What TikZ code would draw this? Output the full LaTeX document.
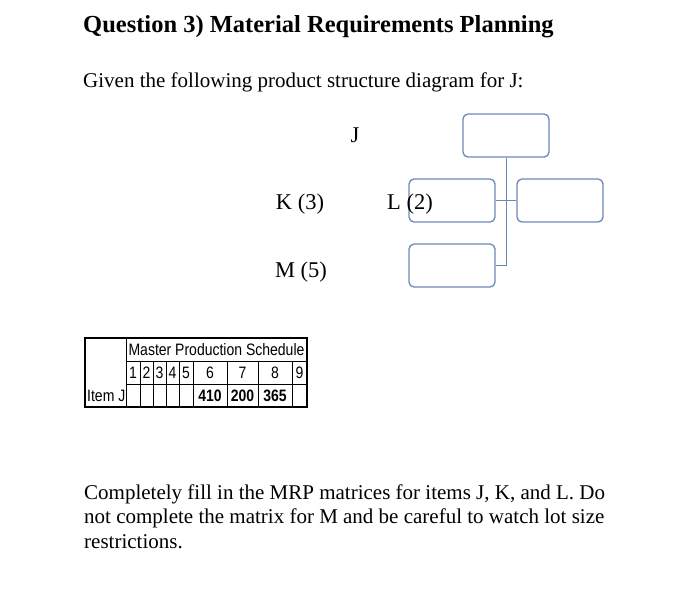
\documentclass[tikz,border=0pt]{standalone}
\usepackage{fontspec}
\usepackage{graphicx}
\setmainfont{Liberation Serif}
\setsansfont{Liberation Sans}
\usetikzlibrary{positioning}
\definecolor{boxblue}{RGB}{108,136,182}
\newcommand{\tallcell}[1]{\scalebox{1}[1.18]{#1}}

\begin{document}
\begin{tikzpicture}[x=1pt, y=-1pt, partbox/.style={draw=boxblue, line width=1.3pt, rounded corners=5pt, minimum width=86pt, minimum height=43pt, inner sep=0pt}, link/.style={draw=boxblue, line width=1pt}, lbl/.style={anchor=base, inner sep=0pt, font=\fontsize{22.5}{27}\selectfont}, cell/.style={inner sep=0pt, font=\sffamily\fontsize{14}{16}\selectfont}, grid/.style={line width=0.7pt}]
\useasboundingbox (0,0) rectangle (700,606);
\node[anchor=base west, inner sep=0pt, font=\fontsize{24.5}{29}\selectfont\bfseries] (title) at (83,32) {Question 3) Material Requirements Planning};
\node[anchor=base west, inner sep=0pt, font=\fontsize{21}{25}\selectfont] (given) at (83,87) {Given the following product structure diagram for J:};
% product structure for J
\node[partbox] (jbox) at (506,135.5) {};
\node[partbox] (kbox) at (452,200.5) {};
\node[partbox] (lbox) at (560,200.5) {};
\node[partbox] (mbox) at (452,265.5) {};
\draw[link] (jbox.south) |- (mbox.east); \draw[link] (kbox.east) -- (lbox.west);
\node[lbl] (jlbl) at (355,142) {J};
\node[lbl] (klbl) at (300,209) {K (3)};
\node[lbl] (llbl) at (410,209) {L (2)};
\node[lbl] (mlbl) at (301,277) {M (5)};
% master production schedule
\draw[line width=1.1pt] (85,338) rectangle (307,407);
\draw[grid] (126,338) -- (126,407); \draw[grid] (126,361) -- (307,361); \draw[grid] (126,384) -- (307,384);
\node[cell] (mps) at (216.5,350) {\tallcell{Master Production Schedule}};
\node[cell, anchor=base west] (itemj) at (87,401) {\tallcell{Item J}};
\foreach \xa/\xb/\d in {126/140/1, 140/153/2, 153/166/3, 166/179/4, 179/193/5, 193/227/6, 227/258/7, 258/292/8, 292/307/9} {
  \node[cell] (p\d) at ({(\xa+\xb)/2},372.5) {\tallcell{\d}};
  \draw[grid] (\xb,361) -- (\xb,407);
}
\foreach \d/\v in {6/410, 7/200, 8/365}
  \node[cell, font=\sffamily\bfseries\fontsize{14}{16}\selectfont] (q\d) at (p\d |- 0,395.5) {\tallcell{\v}};
\node[anchor=base west, inner sep=0pt, align=left, font=\fontsize{21}{24.5}\selectfont] (task) at (84,548) {Completely fill in the MRP matrices for items J, K, and L. Do\\not complete the matrix for M and be careful to watch lot size\\restrictions.};
\end{tikzpicture}
\end{document}
